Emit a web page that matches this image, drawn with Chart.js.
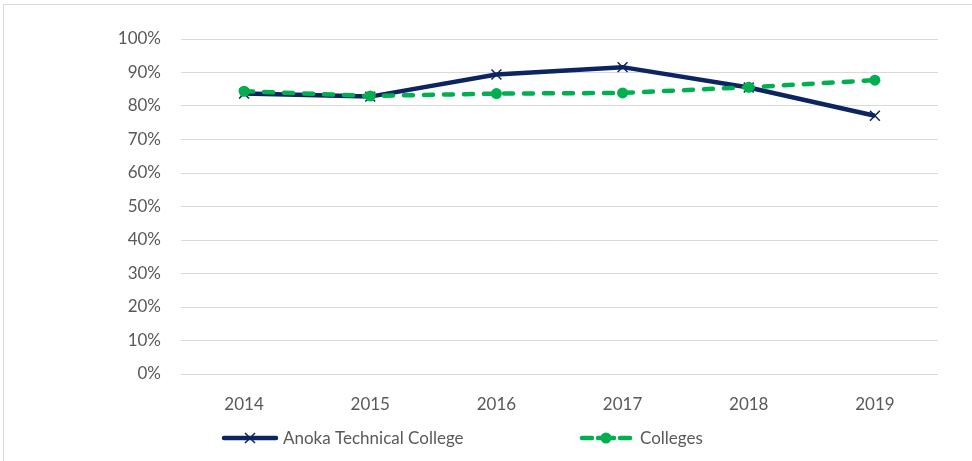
<!DOCTYPE html>
<html><head><meta charset="utf-8">
<script src="https://cdn.jsdelivr.net/npm/chart.js@4/dist/chart.umd.min.js"></script>
<style>html,body{margin:0;padding:0;background:#fff;}canvas{display:block;}</style>
</head><body>
<canvas id="c" width="972" height="461"></canvas>
<script>
const categories = ['2014','2015','2016','2017','2018','2019'];
const anokaValues = [83.7, 82.8, 89.4, 91.6, 85.5, 77.1];
const collegesValues = [84.4, 83.0, 83.7, 83.9, 85.6, 87.7];
const seriesNames = ['Anoka Technical College', 'Colleges'];
const yTickMax = 100, yTickStep = 10;

const NAVY = '#0c2461', GREEN = '#00b050', TXT = '#595959', GRID = '#d9d9d9';
const FONT = 'Lato, "Open Sans", sans-serif';

const framePlugin = {
  id: 'frame',
  afterDraw(chart) {
    const ctx = chart.ctx;
    ctx.save();
    ctx.strokeStyle = GRID; ctx.lineWidth = 1;
    ctx.beginPath();
    ctx.moveTo(3.5, 461); ctx.lineTo(3.5, 4.5); ctx.lineTo(972, 4.5);
    ctx.stroke();
    // legend
    const y = 438;
    ctx.font = '17px ' + FONT; ctx.fillStyle = TXT; ctx.textBaseline = 'middle';
    // Anoka
    ctx.strokeStyle = NAVY; ctx.lineWidth = 4.5; ctx.lineCap = 'round';
    ctx.beginPath(); ctx.moveTo(224, y); ctx.lineTo(276, y); ctx.stroke();
    ctx.lineWidth = 1.5; ctx.lineCap = 'butt';
    const r = 5;
    ctx.beginPath(); ctx.moveTo(250 - r, y - r); ctx.lineTo(250 + r, y + r);
    ctx.moveTo(250 - r, y + r); ctx.lineTo(250 + r, y - r); ctx.stroke();
    ctx.fillText(seriesNames[0], 283, y + 1);
    // Colleges
    ctx.strokeStyle = GREEN; ctx.lineWidth = 4.5; ctx.lineCap = 'round';
    ctx.beginPath(); ctx.moveTo(582, y); ctx.lineTo(592, y); ctx.moveTo(620, y); ctx.lineTo(630, y); ctx.stroke();
    ctx.fillStyle = GREEN;
    ctx.beginPath(); ctx.arc(606, y, 5.5, 0, Math.PI * 2); ctx.fill();
    ctx.lineWidth = 4.5;
    ctx.beginPath(); ctx.moveTo(598, y); ctx.lineTo(614, y); ctx.stroke();
    ctx.fillStyle = TXT;
    ctx.fillText(seriesNames[1], 640, y + 1);
    ctx.restore();
  }
};

new Chart(document.getElementById('c'), {
  type: 'line',
  data: {
    labels: categories,
    datasets: [
      {
        label: seriesNames[0], data: anokaValues,
        borderColor: NAVY, backgroundColor: NAVY, borderWidth: 4.5,
        pointStyle: 'crossRot', pointRadius: 7, pointBorderWidth: 1.5,
        pointBorderColor: NAVY, tension: 0, order: 2
      },
      {
        label: seriesNames[1], data: collegesValues,
        borderColor: GREEN, backgroundColor: GREEN, borderWidth: 4.5,
        borderDash: [9, 11], borderCapStyle: 'round',
        pointStyle: 'circle', pointRadius: 5.5, pointBorderWidth: 0,
        pointBackgroundColor: GREEN, tension: 0, order: 1
      }
    ]
  },
  options: {
    responsive: false, animation: false,
    layout: { padding: { top: 39, right: 34, bottom: 0, left: 0 } },
    plugins: { legend: { display: false }, tooltip: { enabled: false } },
    scales: {
      x: {
        offset: true,
        grid: { display: false },
        border: { display: false },
        ticks: { color: TXT, font: { family: FONT, size: 17 }, padding: 12 },
        afterFit(s) { s.height = 87; }
      },
      y: {
        min: 0, max: yTickMax,
        grid: { color: GRID, lineWidth: 1, drawTicks: false },
        border: { display: false },
        ticks: { stepSize: yTickStep, color: TXT, font: { family: FONT, size: 17 }, padding: 20,
                 callback: v => v + '%' },
        afterFit(s) { s.width = 181; }
      }
    }
  },
  plugins: [framePlugin]
});
</script>
</body></html>
